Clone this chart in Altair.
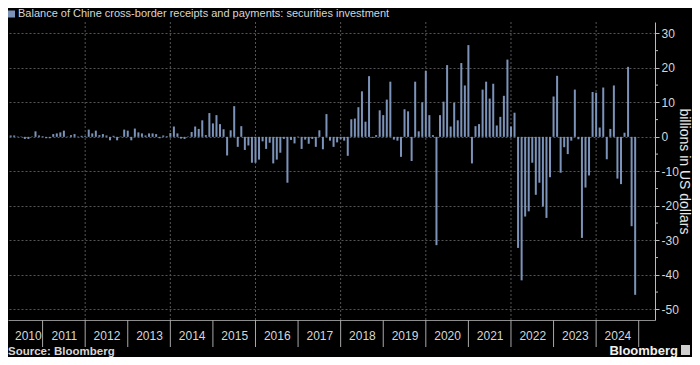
import altair as alt
import pandas as pd

TITLE = "Balance of Chine cross-border receipts and payments: securities investment"
SOURCE = "Source: Bloomberg"
BRAND = "Bloomberg"
Y_TITLE = "billions in US dollars"
FIRST_YEAR = 2010

# monthly balance, billions of US dollars (Jan..Dec)
v2010 = [0.3, 0.2, 0.1, 0.4, 0.4, 0.1, 0.1, -0.6, -0.6, 0.1, 1.6, 0.4]
v2011 = [0.2, -0.4, -0.4, 0.8, 1.0, 1.3, 1.8, 0.1, 0.5, 0.8, 0.1, 0.3]
v2012 = [0.2, 2.1, 1.0, 1.8, 0.5, 0.8, 0.4, -1.0, 0.3, -1.0, 0.1, 2.1]
v2013 = [1.8, -1.0, 2.4, 1.3, 1.0, 0.4, 1.0, 1.0, 0.8, -0.4, 0.4, 0.2]
v2014 = [1.1, 3.0, 1.0, -0.5, -0.6, 0.1, 1.4, 3.0, 2.3, 4.8, 0.5, 6.9]
v2015 = [3.9, 6.3, 3.7, 2.2, -5.4, 1.9, 8.9, -2.9, 3.1, -3.8, -2.5, -7.5]
v2016 = [-7.5, -6.6, -1.3, -3.5, -1.7, -7.7, -6.6, -4.6, -0.6, -13.3, -0.9, -1.9]
v2017 = [0.1, -3.5, -0.8, -2.0, -0.6, -2.9, 1.9, -3.6, 6.6, -1.1, -2.9, -1.6]
v2018 = [-0.7, -1.1, -5.5, 5.1, 5.3, 8.6, 13.2, 4.4, 17.6, -0.3, 0.5, 7.7]
v2019 = [6.3, 10.8, 16.0, -0.8, -1.1, -5.8, 8.0, 7.4, -7.0, 16.0, 1.6, 10.0]
v2020 = [19.1, 6.3, 0.5, -31.4, 6.3, 10.2, 20.8, 3.0, 9.9, 4.8, 21.4, 14.9]
v2021 = [26.6, -7.7, 3.1, 3.7, 13.7, 16.0, 11.1, 15.4, 3.3, 5.8, 11.9, 22.4]
v2022 = [3.0, 7.0, -32.2, -41.6, -23.1, -21.6, -7.5, -16.8, -13.3, -20.2, -23.5, -11.7]
v2023 = [11.7, 17.7, -10.4, -3.0, -5.0, -1.1, 13.7, -0.7, -29.3, -14.7, -11.2, 13.0]
v2024 = [12.8, 2.7, 14.3, -6.5, 2.3, 14.9, -12.1, -13.7, 1.2, 20.3, -25.9, -45.8]

YEAR_VALUES = [v2010, v2011, v2012, v2013, v2014, v2015, v2016, v2017,
               v2018, v2019, v2020, v2021, v2022, v2023, v2024]

Y_TICKS = [-50, -40, -30, -20, -10, 0, 10, 20, 30]
Y_MINOR = [-45, -35, -25, -15, -5, 5, 15, 25]

BAR = "#7b93b8"
GRID = "#555555"
TXT = "#d6d6d6"
FONT = "Liberation Sans"

W, H = 647, 298
X_LO, X_HI = 3.66, 183.18
Y_LO, Y_HI = -53.1, 33.3

rows = []
for k, vals in enumerate(YEAR_VALUES):
    for m, v in enumerate(vals):
        rows.append({"i": 12 * k + m, "value": v})
df = pd.DataFrame(rows)

n_years = len(YEAR_VALUES)
label_pos = [(max(12 * k, X_LO) + min(12 * k + 12, X_HI)) / 2 for k in range(n_years)]
sep_df = pd.DataFrame({"i": [12 * k for k in range(1, n_years + 1)]})
vgrid_df = pd.DataFrame({"i": [12 * k for k in range(1, n_years + 1)
                               if (FIRST_YEAR + k) % 2 == 0 and 12 * k < X_HI]})
minor_df = pd.DataFrame({"value": Y_MINOR})
title_df = pd.DataFrame({"t": [TITLE]})
source_df = pd.DataFrame({"t": [SOURCE]})
brand_df = pd.DataFrame({"t": [BRAND]})

xs = alt.Scale(domain=[X_LO, X_HI], nice=False, zero=False)
ys = alt.Scale(domain=[Y_LO, Y_HI], nice=False, zero=False)

x_axis = alt.Axis(
    values=label_pos,
    labelExpr=f"toString({FIRST_YEAR} + floor(datum.value / 12))",
    ticks=False, tickSize=0, grid=False, domain=True,
    domainColor="#8c8c8c", domainWidth=1,
    labelColor=TXT, labelFont=FONT, labelFontSize=12,
    labelPadding=15, labelBaseline="middle", labelOverlap=False,
    labelFlush=False, title=None,
)
y_axis = alt.Axis(
    orient="right", values=Y_TICKS, grid=True, gridColor=GRID,
    gridDash=[2, 2], gridWidth=1, tickSize=4, tickColor="#bbbbbb",
    domainColor="#bbbbbb", labelColor=TXT, labelFont=FONT,
    labelFontSize=12, labelPadding=2, labelAlign="left",
    labelExpr="toString(datum.value)",
    title=Y_TITLE, titleAngle=90, titleX=24.5, titleY=149,
    titleAlign="center", titleBaseline="alphabetic",
    titleFont=FONT, titleFontSize=14, titleFontWeight="normal",
    titleColor="#e8e8e8",
)

X = alt.X("i:Q", scale=xs, axis=x_axis)
Y = alt.Y("value:Q", scale=ys, axis=y_axis)

vgrid = alt.Chart(vgrid_df).mark_rule(color=GRID, strokeDash=[2, 2], strokeWidth=1).encode(
    x=X, y=alt.value(0), y2=alt.value(H),
)

bars = alt.Chart(df).mark_bar(width=2, color=BAR, clip=True).encode(
    x=X, y=Y, y2=alt.datum(0),
)

seps = alt.Chart(sep_df).mark_rule(color="#a8a8a8", strokeWidth=1).encode(
    x=X, y=alt.value(H), y2=alt.value(H + 27),
)

minor = alt.Chart(minor_df).mark_rule(color="#bbbbbb", strokeWidth=1).encode(
    y=Y, x=alt.value(W), x2=alt.value(W + 3),
)

title_sq = alt.Chart(title_df).mark_rect(color=BAR).encode(
    x=alt.value(0), x2=alt.value(7), y=alt.value(-11.5), y2=alt.value(-4.5),
)
title_txt = alt.Chart(title_df).mark_text(
    align="left", baseline="middle", fontSize=11, font=FONT, color=TXT,
).encode(text="t:N", x=alt.value(10), y=alt.value(-8))

source_txt = alt.Chart(source_df).mark_text(
    align="left", baseline="alphabetic", fontSize=11.5, font=FONT,
    fontWeight="bold", color=TXT,
).encode(text="t:N", x=alt.value(0), y=alt.value(333))

brand_txt = alt.Chart(brand_df).mark_text(
    align="right", baseline="alphabetic", fontSize=13, font=FONT,
    fontWeight="bold", color="#f0f0f0",
).encode(text="t:N", x=alt.value(670), y=alt.value(333))
brand_icon = alt.Chart(brand_df).mark_rect(color="#cfcfcf").encode(
    x=alt.value(673), x2=alt.value(682), y=alt.value(323), y2=alt.value(333),
)

chart = alt.layer(
    vgrid, bars, seps, minor, title_sq, title_txt, source_txt, brand_txt, brand_icon
).properties(
    width=W, height=H,
    autosize=alt.AutoSizeParams(type="none"),
    padding={"left": 0, "top": 14, "right": 37, "bottom": 37},
).configure(background="#000000").configure_view(stroke=None)

chart.save("out.html", embed_options={"renderer": "svg", "actions": False})
